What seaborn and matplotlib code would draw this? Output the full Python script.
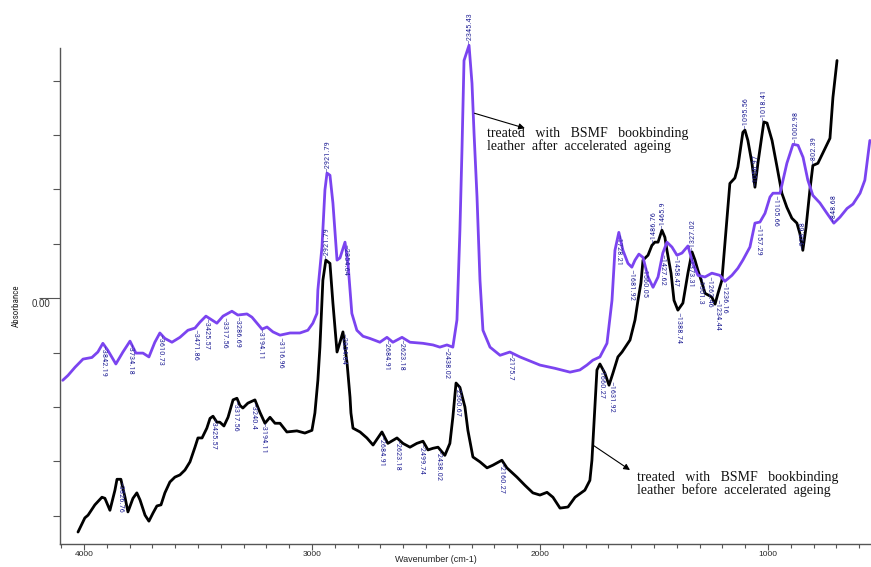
import numpy as np
import pandas as pd
import matplotlib
matplotlib.use("Agg")
import matplotlib.pyplot as plt
from matplotlib import font_manager
from matplotlib.font_manager import FontProperties
import seaborn as sns

# FTIR spectrum after accelerated ageing (purple trace)
after_wn = [4093, 4070, 4039, 4004, 3965, 3939, 3917, 3895, 3860, 3829,
            3798, 3772, 3741, 3715, 3689, 3667, 3645, 3614, 3579, 3544,
            3513, 3491, 3465, 3439, 3417, 3390, 3351, 3325, 3285, 3263,
            3241, 3219, 3197, 3171, 3140, 3096, 3053, 3018, 2996, 2978,
            2974, 2956, 2943, 2934, 2921, 2908, 2890, 2877, 2855, 2842,
            2825, 2803, 2776, 2746, 2702, 2671, 2645, 2605, 2570, 2513,
            2469, 2439, 2408, 2382, 2364, 2351, 2342, 2333, 2311, 2298,
            2289, 2276, 2263, 2250, 2219, 2175, 2132, 2088, 2000, 1934,
            1868, 1825, 1794, 1768, 1737, 1706, 1684, 1671, 1654, 1636,
            1614, 1597, 1583, 1566, 1548, 1526, 1504, 1482, 1461, 1443,
            1421, 1399, 1377, 1351, 1329, 1307, 1276, 1246, 1211, 1189,
            1158, 1132, 1110, 1079, 1057, 1035, 1013, 991, 978, 947,
            917, 890, 868, 846, 825, 803, 772, 741, 711, 684,
            653, 627, 596, 575, 553]
after_abs = [-0.151, -0.142, -0.127, -0.112, -0.109, -0.099, -0.083, -0.096, -0.121, -0.099,
             -0.079, -0.101, -0.101, -0.108, -0.081, -0.064, -0.074, -0.081, -0.072, -0.059,
             -0.055, -0.044, -0.033, -0.040, -0.046, -0.033, -0.024, -0.031, -0.029, -0.035,
             -0.046, -0.057, -0.053, -0.062, -0.068, -0.064, -0.064, -0.059, -0.046, -0.028,
             0.015, 0.094, 0.199, 0.230, 0.226, 0.175, 0.070, 0.074, 0.103, 0.064,
             -0.028, -0.059, -0.070, -0.074, -0.081, -0.072, -0.081, -0.072, -0.081, -0.083,
             -0.086, -0.090, -0.086, -0.090, -0.040, 0.125, 0.272, 0.437, 0.465, 0.395,
             0.303, 0.186, 0.033, -0.059, -0.090, -0.105, -0.099, -0.108, -0.123, -0.129,
             -0.136, -0.132, -0.123, -0.114, -0.108, -0.083, -0.004, 0.088, 0.121, 0.088,
             0.064, 0.057, 0.070, 0.081, 0.075, 0.039, 0.020, 0.039, 0.083, 0.103,
             0.094, 0.079, 0.083, 0.096, 0.064, 0.042, 0.039, 0.046, 0.042, 0.031,
             0.042, 0.055, 0.070, 0.094, 0.138, 0.140, 0.156, 0.186, 0.193, 0.193,
             0.248, 0.283, 0.281, 0.259, 0.217, 0.189, 0.175, 0.156, 0.138, 0.149,
             0.165, 0.173, 0.193, 0.217, 0.290]

# FTIR spectrum before accelerated ageing (black trace)
before_wn = [4026, 3996, 3982, 3952, 3921, 3908, 3886, 3864, 3855, 3838,
             3820, 3807, 3785, 3768, 3754, 3732, 3715, 3697, 3680, 3662,
             3645, 3623, 3601, 3579, 3557, 3535, 3513, 3500, 3482, 3461,
             3447, 3434, 3417, 3404, 3386, 3368, 3346, 3329, 3316, 3303,
             3281, 3250, 3228, 3206, 3184, 3162, 3140, 3110, 3066, 3031,
             3000, 2987, 2974, 2965, 2952, 2939, 2921, 2908, 2890, 2877,
             2864, 2846, 2833, 2829, 2820, 2789, 2759, 2732, 2693, 2667,
             2627, 2601, 2570, 2540, 2513, 2491, 2469, 2447, 2417, 2395,
             2382, 2368, 2351, 2329, 2316, 2294, 2263, 2232, 2206, 2167,
             2145, 2101, 2066, 2031, 2000, 1969, 1943, 1912, 1877, 1846,
             1803, 1781, 1772, 1759, 1750, 1737, 1715, 1697, 1680, 1658,
             1640, 1605, 1583, 1570, 1557, 1548, 1526, 1509, 1496, 1482,
             1465, 1452, 1443, 1425, 1412, 1395, 1373, 1351, 1333, 1320,
             1307, 1289, 1276, 1263, 1246, 1232, 1219, 1202, 1184, 1167,
             1145, 1132, 1110, 1101, 1088, 1070, 1057, 1044, 1026, 1018,
             1004, 982, 960, 939, 917, 895, 873, 860, 847, 833,
             816, 803, 781, 759, 728, 715, 697]
before_abs = [-0.430, -0.404, -0.399, -0.380, -0.366, -0.368, -0.390, -0.353, -0.333, -0.333,
              -0.366, -0.393, -0.368, -0.358, -0.371, -0.399, -0.410, -0.395, -0.382, -0.380,
              -0.358, -0.338, -0.329, -0.325, -0.316, -0.301, -0.274, -0.257, -0.257, -0.239,
              -0.221, -0.217, -0.228, -0.228, -0.235, -0.219, -0.187, -0.184, -0.197, -0.202,
              -0.193, -0.187, -0.210, -0.230, -0.219, -0.230, -0.230, -0.246, -0.244, -0.248,
              -0.243, -0.211, -0.151, -0.090, 0.033, 0.070, 0.064, -0.009, -0.099, -0.081,
              -0.062, -0.119, -0.182, -0.211, -0.239, -0.246, -0.257, -0.270, -0.246, -0.267,
              -0.257, -0.267, -0.274, -0.267, -0.263, -0.279, -0.276, -0.274, -0.289, -0.267,
              -0.219, -0.156, -0.164, -0.200, -0.243, -0.292, -0.301, -0.312, -0.307, -0.298,
              -0.312, -0.329, -0.344, -0.358, -0.362, -0.357, -0.366, -0.386, -0.384, -0.366,
              -0.353, -0.335, -0.298, -0.200, -0.132, -0.121, -0.138, -0.160, -0.138, -0.108,
              -0.099, -0.077, -0.040, -0.004, 0.028, 0.070, 0.079, 0.097, 0.103, 0.103,
              0.125, 0.112, 0.088, 0.046, -0.004, -0.022, -0.009, 0.046, 0.085, 0.070,
              0.051, 0.028, 0.009, 0.006, 0.002, -0.011, 0.009, 0.033, 0.125, 0.211,
              0.221, 0.241, 0.305, 0.309, 0.290, 0.248, 0.204, 0.248, 0.300, 0.324,
              0.322, 0.290, 0.241, 0.193, 0.167, 0.147, 0.138, 0.119, 0.088, 0.130,
              0.199, 0.244, 0.248, 0.267, 0.294, 0.369, 0.437]

# peak-pick annotations: text, position on the wavenumber axis, side of the trace
after_peak_text = ["3842.19", "3734.18", "3610.73", "3471.86", "3425.57", "3317.56", "3286.69",
                   "3194.11", "3116.96", "2921.79", "2854.64", "2684.91", "2623.18", "2438.02",
                   "2345.43", "2175.7", "1728.21", "1681.92", "1560.05", "1427.62", "1458.47",
                   "1373.31", "1301.3", "1262.46", "1236.16", "1157.29", "1105.66", "1002.98",
                   "848.68"]
after_peak_wn = [3917, 3798, 3667, 3513, 3465, 3386, 3329, 3228, 3140, 2934, 2855, 2675, 2610,
                 2412, 2311, 2132, 1654, 1597, 1540, 1461, 1404, 1340, 1298, 1255, 1190, 1040,
                 969, 882, 711]
after_peak_side = ["below"] * 9 + ["above"] + ["below"] * 4 + ["above"] + ["below"] * 12 + ["above", "above"]

before_peak_text = ["3826.76", "3425.57", "3317.56", "3240.4", "3194.11", "2921.79", "2854.64",
                    "2684.91", "2623.18", "2499.74", "2438.02", "2360.67", "2160.27", "1660.27",
                    "1631.92", "1486.76", "1465.9", "1388.74", "1327.02", "1234.44", "1095.56",
                    "1056.97", "1018.41", "938.68", "802.39"]
before_peak_wn = [3842, 3434, 3338, 3259, 3211, 2939, 2864, 2697, 2627, 2518, 2447, 2364, 2171,
                  1732, 1689, 1504, 1465, 1395, 1333, 1224, 1101, 1057, 1018, 847, 799]
before_peak_side = (["below"] * 5 + ["above"] + ["below"] * 9 + ["above", "above", "below",
                    "above", "below"] + ["above"] * 5)

x_major = [4000, 3000, 2000, 1000]
after_caption = "treated   with   BSMF   bookbinding\nleather  after  accelerated  ageing"
before_caption = "treated   with   BSMF   bookbinding\nleather  before  accelerated  ageing"

PURPLE = "#7b44f0"
LABEL_BLUE = "#2f2f9c"
AXIS_GREY = "#555555"

sns.set_theme(style="white")
plt.rcParams["font.family"] = ["Liberation Sans", "DejaVu Sans"]


def condensed_font():
    """Return a narrow sans font for the crowded peak labels, if one is installed."""
    preferred = ["Liberation Sans Narrow", "Roboto Condensed", "Open Sans Condensed",
                 "Noto Sans Condensed", "DejaVu Sans Condensed"]
    found = {}
    for f in font_manager.fontManager.ttflist:
        stretch = str(f.stretch).lower()
        narrowish = ("narrow" in f.name.lower() or "condensed" in f.name.lower()
                     or "condensed" in stretch or "narrow" in f.fname.lower()
                     or "condensed" in f.fname.lower())
        if not narrowish or f.style != "normal":
            continue
        if str(f.weight) not in ("400", "normal", "regular", "book"):
            continue
        low = (f.name + f.fname).lower()
        if "serif" in low.replace("sans", "") or "mono" in low:
            continue
        key = f.name if "condensed" in f.name.lower() or "narrow" in f.name.lower() else f.name + " Condensed"
        found.setdefault(key, f.fname)
    for name in preferred:
        if name in found:
            return FontProperties(fname=found[name]), True
    if found:
        return FontProperties(fname=sorted(found.items())[0][1]), True
    return FontProperties(family="DejaVu Sans"), False


narrow_fp, is_narrow = condensed_font()
label_size = 6.0 if is_narrow else 5.5

df_after = pd.DataFrame({"wn": after_wn, "abs": after_abs})
df_before = pd.DataFrame({"wn": before_wn, "abs": before_abs})

fig = plt.figure(figsize=(8.71, 5.67), dpi=100)
ax = fig.add_axes([60 / 871, 23 / 567, 811 / 871, 496 / 567])

sns.lineplot(data=df_before, x="wn", y="abs", sort=False, estimator=None,
             color="black", linewidth=2.0, ax=ax)
sns.lineplot(data=df_after, x="wn", y="abs", sort=False, estimator=None,
             color=PURPLE, linewidth=2.0, ax=ax)
for ln in ax.lines:
    ln.set_clip_on(False)
    ln.set_solid_joinstyle("round")

ax.set_xlim(4105, 548)
ax.set_ylim(-0.452, 0.46)


def label_peaks(df, texts, wns, sides):
    xs = df["wn"].to_numpy()[::-1]
    ys = df["abs"].to_numpy()[::-1]
    for txt, wn, side in zip(texts, wns, sides):
        y = np.interp(wn, xs, ys)
        fp = narrow_fp.copy()
        fp.set_size(label_size)
        if side == "below":
            ax.annotate("\u2013" + txt, (wn, y), xytext=(0, -1), textcoords="offset points",
                        rotation=270, ha="center", va="top", fontproperties=fp,
                        color=LABEL_BLUE, annotation_clip=False)
        else:
            ax.annotate("\u2013" + txt, (wn, y), xytext=(0, 1), textcoords="offset points",
                        rotation=90, ha="center", va="bottom", fontproperties=fp,
                        color=LABEL_BLUE, annotation_clip=False)


label_peaks(df_after, after_peak_text, after_peak_wn, after_peak_side)
label_peaks(df_before, before_peak_text, before_peak_wn, before_peak_side)

# captions with arrows pointing from each trace
arrow = dict(arrowstyle="-|>", color="black", lw=0.8, mutation_scale=9, shrinkA=0, shrinkB=0)
caption_font = dict(fontsize=10, family=["Liberation Serif", "DejaVu Serif"],
                    linespacing=0.92, color="#111111", ha="left", va="top")
ax.annotate("", xy=(2066, 0.3125), xytext=(2287, 0.340), arrowprops=arrow)
ax.text(2232, 0.314, after_caption, **caption_font)
ax.annotate("", xy=(1605, -0.316), xytext=(1768, -0.270), arrowprops=arrow)
ax.text(1575, -0.318, before_caption, **caption_font)

# axes frame and ticks
sns.despine(ax=ax, top=True, right=True)
for side in ("left", "bottom"):
    ax.spines[side].set_color(AXIS_GREY)
    ax.spines[side].set_linewidth(1.0)

ax.set_xticks(x_major)
ax.set_xticklabels([str(v) for v in x_major], fontsize=6)
ax.set_xticks(np.arange(4100, 500, -100), minor=True)
ax.tick_params(axis="x", which="major", direction="out", length=4, width=0.8,
               color=AXIS_GREY, pad=1, bottom=True)
ax.tick_params(axis="x", which="minor", direction="out", length=3, width=0.8,
               color=AXIS_GREY, bottom=True)

ax.set_yticks([0.0])
ax.set_yticklabels([])
ax.set_yticks([-0.4, -0.3, -0.2, -0.1, 0.1, 0.2, 0.3, 0.4], minor=True)
ax.tick_params(axis="y", which="major", direction="out", length=15, width=0.8,
               color=AXIS_GREY, left=True)
ax.tick_params(axis="y", which="minor", direction="out", length=5, width=0.8,
               color=AXIS_GREY, left=True)
ax.grid(False)
ax.set_xlabel("")
ax.set_ylabel("")

fig.text(50 / 871, 1 - 299 / 567, "0.00", ha="right", va="top", fontsize=7, color="#333333")
abs_fp = narrow_fp.copy()
abs_fp.set_size(6.5)
fig.text(16 / 871, 1 - 306 / 567, "Absorbance", rotation=90, ha="center", va="center",
         fontproperties=abs_fp, color="#222222")
fig.text(436 / 871, 1 - 559 / 567, "Wavenumber (cm-1)", ha="center", va="center",
         fontsize=6.5, color="#222222")

fig.savefig("out.png", dpi=100, facecolor="white")
